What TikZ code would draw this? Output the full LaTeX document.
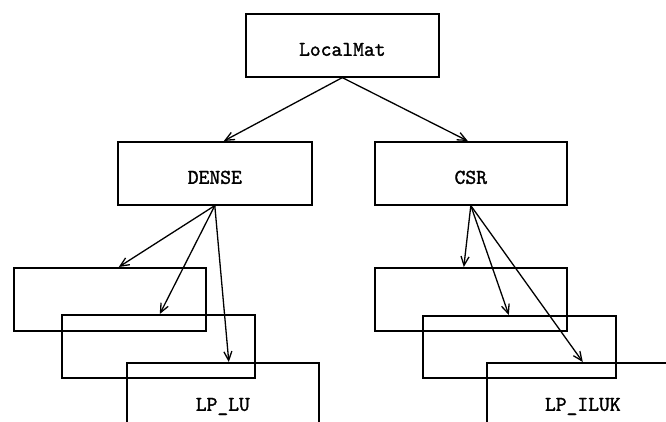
\documentclass[tikz,border=0pt]{standalone}
\usepackage{fontspec}
\newfontfamily\courfont{Latin Modern Mono}[FakeBold=1.6]
\usetikzlibrary{arrows.meta}
\begin{document}
\begin{tikzpicture}[x=1pt,y=-1pt,
  box/.style={draw, line width=1.6pt, minimum width=193pt, minimum height=63pt,
    inner sep=0pt, anchor=north west,
    font=\courfont\fontsize{21}{23}\selectfont\bfseries, text height=21pt, text depth=0pt},
  tall/.style={minimum height=75pt},
  arr/.style={-{Straight Barb[length=9pt,width=8pt,line width=1.3pt]}, line width=1.3pt}]
\useasboundingbox (0,0) rectangle (666,421);
\clip (0,0) rectangle (666,421);
\fill[white] (0,0) rectangle (666,421);

\node[box] (lm) at (245,13) {LocalMat};
\node[box, minimum width=194pt] (dense) at (117,141) {DENSE};
\node[box, minimum width=192pt] (csr) at (374,141) {CSR};

\node[box, minimum width=192pt] (l1) at (13,267) {};
\node[box] (l2) at (61,314) {};
\node[box, tall, minimum width=192pt] (l3) at (126,362) {LP\_LU};

\node[box, minimum width=192pt] (r1) at (374,267) {};
\node[box, minimum height=62pt] (r2) at (422,315) {};
\node[box, tall, minimum width=192pt] (r3) at (486,362) {LP\_ILUK};

\draw[arr] (lm.south) -- ([xshift=9pt]dense.north);
\draw[arr] (lm.south) -- ([xshift=-3pt]csr.north);

\draw[arr] (dense.south) -- ([xshift=9pt]l1.north);
\draw[arr] (dense.south) -- ([xshift=1.5pt]l2.north);
\draw[arr] (dense.south) -- ([xshift=6pt]l3.north);

\draw[arr] (csr.south) -- ([xshift=-7pt]r1.north);
\draw[arr] (csr.south) -- ([xshift=-10.5pt]r2.north);
\draw[arr] (csr.south) -- (r3.north);
\end{tikzpicture}
\end{document}
